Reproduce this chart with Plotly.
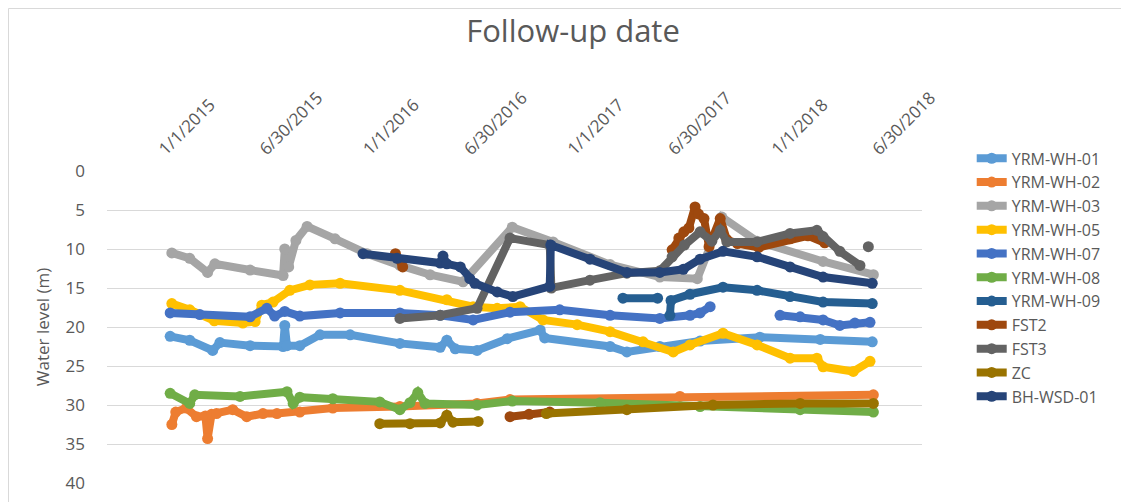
import plotly.graph_objects as go

# ---------------- data ----------------
wh01_dates = ["2015-01-19","2015-02-23","2015-04-05","2015-04-18","2015-06-11","2015-08-09","2015-08-12",
              "2015-08-16","2015-09-08","2015-10-14","2015-12-07","2016-03-05","2016-05-16","2016-05-28",
              "2016-06-12","2016-07-21","2016-09-13","2016-11-11","2016-11-19","2017-03-16","2017-04-15",
              "2017-06-13","2017-08-24","2017-12-09","2018-03-27","2018-06-28"]
wh01_vals = [21.2,21.7,23.0,22.0,22.4,22.5,19.8,22.4,22.4,21.0,21.0,22.1,22.6,21.7,22.8,23.0,21.5,20.4,21.4,
             22.5,23.2,22.5,21.8,21.3,21.6,21.9]

wh02_dates = ["2015-01-22","2015-01-29","2015-02-17","2015-03-07","2015-03-23","2015-03-27","2015-04-03",
              "2015-04-12","2015-05-11","2015-06-05","2015-07-04","2015-07-29","2015-09-08","2015-11-06",
              "2016-03-05","2016-07-21","2016-09-18","2017-07-19","2018-06-30"]
wh02_vals = [32.5,30.9,30.4,31.5,31.4,34.3,31.2,31.1,30.6,31.5,31.1,31.1,30.9,30.4,30.2,29.8,29.3,28.9,28.7]

wh03_dates = ["2015-01-22","2015-02-23","2015-03-27","2015-04-09","2015-06-11","2015-08-09","2015-08-12",
              "2015-08-19","2015-09-01","2015-09-21","2015-11-10","2016-01-06","2016-03-05","2016-04-28",
              "2016-06-26","2016-09-22","2016-12-04","2017-03-16","2017-06-13","2017-08-19","2017-10-02",
              "2017-12-04","2018-04-01","2018-06-30"]
wh03_vals = [10.5,11.2,13.0,11.9,12.7,13.4,10.0,12.3,8.9,7.1,8.7,10.6,12.1,13.3,14.2,7.2,9.1,12.0,13.6,
             13.8,5.9,9.0,11.6,13.3]

wh05_dates = ["2015-01-22","2015-02-23","2015-04-08","2015-05-29","2015-06-20","2015-07-02","2015-07-22",
              "2015-08-21","2015-09-26","2015-11-19","2016-03-05","2016-05-28","2016-07-14","2016-08-26",
              "2016-10-06","2016-11-16","2017-01-16","2017-03-16","2017-05-14","2017-07-07","2017-08-06",
              "2017-10-04","2017-12-04","2018-02-01","2018-03-21","2018-04-01","2018-05-25","2018-06-24"]
wh05_vals = [17.0,17.8,19.2,19.5,19.3,17.2,16.8,15.3,14.6,14.4,15.3,16.5,17.4,17.6,17.4,19.1,19.7,20.6,
             21.9,23.2,22.3,20.8,22.3,24.0,24.0,25.1,25.7,24.4]

wh07_dates = ["2015-01-19","2015-03-13","2015-06-11","2015-07-11","2015-07-25","2015-08-12","2015-09-08",
              "2015-11-19","2016-03-05","2016-05-16","2016-07-14","2016-09-18","2016-12-16","2017-03-16",
              "2017-06-13","2017-08-06","2017-08-24","2017-09-11","2017-11-15","2018-01-14","2018-02-19",
              "2018-04-01","2018-05-01","2018-05-28","2018-06-24"]
wh07_vals = [18.2,18.4,18.7,17.6,18.6,18.0,18.6,18.2,18.2,18.5,19.1,18.1,17.8,18.5,18.9,18.5,18.2,17.4,
             None,18.5,18.7,19.1,19.8,19.5,19.4]

wh08_dates = ["2015-01-19","2015-02-23","2015-03-04","2015-05-24","2015-08-16","2015-08-27","2015-09-08",
              "2015-11-06","2016-01-29","2016-03-05","2016-03-23","2016-04-06","2016-04-19","2016-07-21",
              "2016-09-22","2017-02-26","2017-08-24","2018-02-19","2018-06-30"]
wh08_vals = [28.5,29.8,28.7,28.9,28.3,29.8,29.0,29.2,29.6,30.6,29.7,28.4,29.8,30.0,29.5,29.7,30.2,30.6,30.9]

wh09_dates = ["2017-04-08","2017-06-09","2017-06-20","2017-07-01","2017-07-03","2017-08-06","2017-10-04",
              "2017-12-04","2018-02-01","2018-04-01","2018-06-28"]
wh09_vals = [16.3,16.3,None,18.5,16.6,15.8,14.9,15.3,16.1,16.8,17.0]

fst2_dates = ["2016-02-26","2016-03-10","2016-06-01","2016-09-18","2016-10-22","2016-11-28","2017-01-01",
              "2017-07-05","2017-07-17","2017-07-26","2017-08-04","2017-08-15","2017-08-21","2017-08-31",
              "2017-09-09","2017-09-29","2017-10-11","2017-10-30","2017-12-07","2018-02-01","2018-03-05",
              "2018-04-04"]
fst2_vals = [10.6,12.3,None,31.5,31.2,30.9,None,10.1,8.6,7.8,7.3,4.6,5.5,6.1,9.7,6.1,8.8,9.3,9.8,8.7,
             8.3,9.2]

fst3_dates = ["2016-03-05","2016-05-16","2016-07-21","2016-09-18","2016-11-28","2016-12-01","2017-02-08",
              "2017-04-15","2017-06-13","2017-07-05","2017-07-27","2017-08-24","2017-09-14","2017-09-29",
              "2017-10-11","2017-12-04","2018-02-01","2018-03-21","2018-04-01","2018-05-01","2018-06-06",
              "2018-06-14","2018-06-21"]
fst3_vals = [18.9,18.5,17.6,8.6,9.5,15.0,14.0,13.1,12.8,11.0,9.5,7.8,9.0,7.6,9.1,9.1,8.0,7.6,8.4,10.3,
             12.1,None,9.7]

zc_dates = ["2016-01-29","2016-03-23","2016-05-16","2016-05-28","2016-06-08","2016-07-23","2016-08-20",
            "2016-11-22","2017-04-15","2017-09-16","2018-02-19","2018-06-30"]
zc_vals = [32.4,32.4,32.3,31.3,32.2,32.1,None,31.1,30.6,30.0,29.8,29.8]

bh_dates = ["2015-12-30","2016-02-29","2016-05-16","2016-05-21","2016-05-28","2016-06-21","2016-07-08",
            "2016-07-17","2016-08-26","2016-09-23","2016-11-28","2016-11-30","2017-02-08","2017-04-15",
            "2017-06-13","2017-07-25","2017-08-24","2017-10-04","2017-12-04","2018-02-01","2018-04-01",
            "2018-06-28"]
bh_vals = [10.6,11.2,11.8,10.9,11.9,12.3,13.8,14.4,15.5,16.1,14.8,9.5,11.3,13.0,13.0,12.6,11.3,10.3,11.0,
           12.3,13.6,14.4]

series_names = ["YRM-WH-01","YRM-WH-02","YRM-WH-03","YRM-WH-05","YRM-WH-07","YRM-WH-08","YRM-WH-09",
                "FST2","FST3","ZC","BH-WSD-01"]
series_colors = ["#5B9BD5","#ED7D31","#A5A5A5","#FFC000","#4472C4","#70AD47","#255E91",
                 "#9E480E","#636363","#997300","#264478"]
series_data = [(wh01_dates, wh01_vals),(wh02_dates, wh02_vals),(wh03_dates, wh03_vals),
               (wh05_dates, wh05_vals),(wh07_dates, wh07_vals),(wh08_dates, wh08_vals),
               (wh09_dates, wh09_vals),(fst2_dates, fst2_vals),(fst3_dates, fst3_vals),
               (zc_dates, zc_vals),(bh_dates, bh_vals)]

tick_dates = ["2015-01-01","2015-06-30","2016-01-01","2016-06-30","2017-01-01","2017-06-30",
              "2018-01-01","2018-06-30"]
tick_labels = ["1/1/2015","6/30/2015","1/1/2016","6/30/2016","1/1/2017","6/30/2017","1/1/2018","6/30/2018"]

# ---------------- figure ----------------
FONT = "Open Sans"
TXT = "#595959"
W, H = 1121, 494          # page body has an 8px default margin
ML, MT, MB = 99, 163, 19
PW, PH = 815, 312
MR = W - ML - PW

fig = go.Figure()
for name, color, (d, v) in zip(series_names, series_colors, series_data):
    fig.add_trace(go.Scatter(
        x=d, y=v, name=name, mode="lines+markers",
        line=dict(color=color, width=8),
        marker=dict(color=color, size=11),
        connectgaps=False,
    ))

fig.update_layout(
    width=W, height=H,
    margin=dict(l=ML, r=MR, t=MT, b=MB, autoexpand=False),
    paper_bgcolor="white", plot_bgcolor="white",
    font=dict(family=FONT, color=TXT, size=17),
    title=dict(text="Follow-up date", x=(573 - 8) / W, xanchor="center",
               y=1 - (31 - 8) / H, yanchor="middle", font=dict(size=31, color=TXT, family=FONT)),
    showlegend=True,
    legend=dict(x=1.061, y=1.095, xanchor="left", yanchor="top", maxheight=0.95,
                font=dict(size=16, color=TXT, family=FONT),
                bgcolor="rgba(0,0,0,0)", itemwidth=30, tracegroupgap=0),
    xaxis=dict(type="date", side="top", range=["2014-09-28", "2018-09-25"],
               tickmode="array", tickvals=tick_dates, ticktext=tick_labels,
               tickangle=-45, showgrid=False, zeroline=False, showline=False, automargin=False,
               ticks="", ticklabelstandoff=8, tickfont=dict(size=17, color=TXT)),
    yaxis=dict(range=[40, 0], dtick=5, showgrid=True, gridcolor="#D9D9D9", gridwidth=1.3,
               zeroline=False, showline=False, ticks="", ticklabelstandoff=21, automargin=False,
               tickfont=dict(size=17, color=TXT),
               title=dict(text="Water level (m)", font=dict(size=17, color=TXT), standoff=11)),
    shapes=[dict(type="rect", xref="paper", yref="paper",
                 x0=(0.5 - ML) / PW, x1=(W + 50 - ML) / PW,
                 y0=(H - MB - (H + 50)) / PH, y1=(H - MB - 0.5) / PH,
                 line=dict(color="#D9D9D9", width=1), fillcolor="rgba(0,0,0,0)", layer="below")],
)

fig.write_html("out.html")
